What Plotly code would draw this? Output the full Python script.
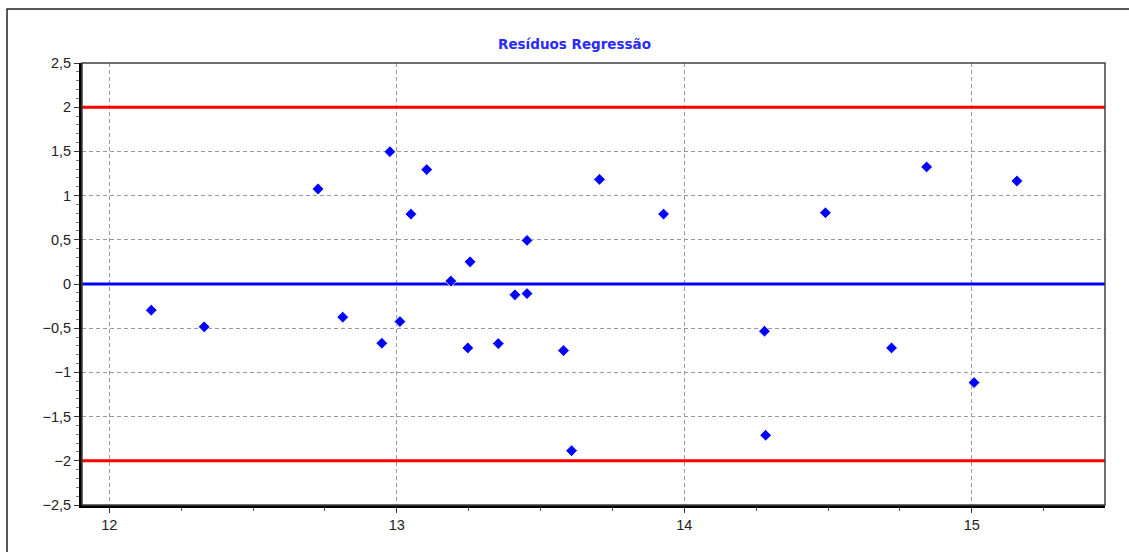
import plotly.graph_objects as go

# Fitted values (x) and residuals (y)
fitted = [12.146, 12.330, 12.726, 12.812, 12.948, 12.976, 13.011, 13.049, 13.104,
          13.188, 13.255, 13.247, 13.353, 13.411, 13.453, 13.453, 13.580, 13.705,
          13.928, 13.608, 14.283, 14.279, 14.721, 14.491, 14.843, 15.157, 15.008]
residuals = [-0.296, -0.485, 1.075, -0.375, -0.670, 1.497, -0.425, 0.791, 1.294,
             0.033, 0.251, -0.723, -0.674, -0.122, 0.493, -0.108, -0.753, 1.183,
             0.791, -1.886, -1.711, -0.534, -0.723, 0.806, 1.324, 1.165, -1.115]

# Reference levels
limit_levels = [-2, 2]
center_level = 0

x_range = [11.905, 15.4635]
y_range = [-2.5, 2.5]
x_ticks = [12, 13, 14, 15]
y_ticks = [-2.5, -2, -1.5, -1, -0.5, 0, 0.5, 1, 1.5, 2, 2.5]

fig = go.Figure()

# Red control limits and blue centre line, drawn across the full x range
for lv in limit_levels:
    fig.add_trace(go.Scatter(x=x_range, y=[lv, lv], mode="lines",
                             line=dict(color="#FF0000", width=3),
                             showlegend=False, hoverinfo="skip", cliponaxis=True))
fig.add_trace(go.Scatter(x=x_range, y=[center_level, center_level], mode="lines",
                         line=dict(color="#0000FF", width=3),
                         showlegend=False, hoverinfo="skip", cliponaxis=True))

fig.add_trace(go.Scatter(
    x=fitted, y=residuals, mode="markers",
    marker=dict(symbol="diamond", size=9, color="#0000FF",
                line=dict(color="white", width=0.8)),
    showlegend=False, hoverinfo="x+y",
))

shapes = [
    # Plot border (thin) on top/right
    dict(type="rect", xref="paper", yref="paper", x0=0, x1=1, y0=0, y1=1,
         line=dict(color="#404040", width=1.5), layer="above"),
    # Outer frame around the chart
    dict(type="rect", xref="paper", yref="paper",
         x0=-0.0733, x1=1.2, y0=-0.3, y1=1.1222,
         line=dict(color="#222222", width=1.5), layer="above"),
]

fig.update_layout(
    width=1129, height=552,
    margin=dict(l=82, r=24, t=63, b=47),
    paper_bgcolor="white", plot_bgcolor="white",
    separators=",.",
    shapes=shapes,
    font=dict(family="Liberation Sans, Arial", size=14, color="#222222"),
    annotations=[dict(
        text="<b>Resíduos Regressão</b>", xref="paper", yref="paper",
        x=0.481, y=1.043, xanchor="center", yanchor="middle", showarrow=False,
        font=dict(family="DejaVu Sans", size=13.5, color="#2a2aff"),
    )],
)

grid_style = dict(showgrid=True, gridcolor="#999999", griddash="4px,3px", gridwidth=1.2)

fig.update_xaxes(
    range=x_range, tickvals=x_ticks, ticktext=[str(v) for v in x_ticks],
    zeroline=False, showline=True, linecolor="black", linewidth=3,
    ticks="outside", ticklen=5, tickwidth=1, tickcolor="#333333",
    minor=dict(dtick=0.25, tick0=12, ticks="outside", ticklen=3, tickcolor="#555555",
               showgrid=False),
    tickfont=dict(size=14.5, color="#222222"),
    **grid_style,
)
fig.update_yaxes(
    range=y_range, tickvals=y_ticks,
    zeroline=False, showline=True, linecolor="black", linewidth=3,
    ticks="outside", ticklen=5, tickwidth=1, tickcolor="#333333",
    minor=dict(dtick=0.1, tick0=0, ticks="outside", ticklen=3, tickcolor="#777777",
               showgrid=False),
    tickfont=dict(size=14.5, color="#222222"),
    **grid_style,
)

fig.write_html("out.html")
